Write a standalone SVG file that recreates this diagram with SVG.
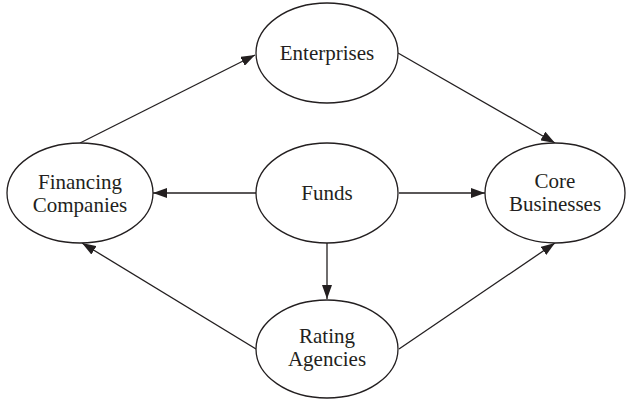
<svg xmlns="http://www.w3.org/2000/svg" width="626" height="400" viewBox="0 0 626 400">
<defs>
<style>
.node ellipse{fill:#fff;stroke:#231f20;stroke-width:1.3}
.node text{font-family:"Liberation Serif","Times New Roman",serif;font-size:21px;fill:#231f20;text-anchor:middle}
.edge{stroke:#231f20;stroke-width:1.3;fill:none;marker-end:url(#arr)}
</style>
<marker id="arr" viewBox="0 0 14 10" refX="14" refY="5" markerWidth="14" markerHeight="10" markerUnits="userSpaceOnUse" orient="auto">
<path d="M0,0 L14,5 L0,10 Z" fill="#231f20"/>
</marker>
</defs>
<rect width="626" height="400" fill="#fff"/>
<g id="connectors">
<line class="edge" x1="80" y1="143" x2="255" y2="55"/>
<line class="edge" x1="398" y1="53" x2="555" y2="143"/>
<line class="edge" x1="256" y1="193" x2="153" y2="193"/>
<line class="edge" x1="399" y1="193" x2="485" y2="193"/>
<line class="edge" x1="327" y1="243" x2="327" y2="299"/>
<line class="edge" x1="256" y1="349" x2="82" y2="243"/>
<line class="edge" x1="399" y1="349" x2="555" y2="243"/>
</g>
<g id="enterprises" class="node">
<ellipse cx="327" cy="53" rx="71" ry="50"/>
<text x="327" y="60">Enterprises</text>
</g>
<g id="funds" class="node">
<ellipse cx="327" cy="193" rx="71" ry="50"/>
<text x="327" y="200">Funds</text>
</g>
<g id="rating" class="node">
<ellipse cx="327" cy="349" rx="71" ry="49"/>
<text x="327" y="343">Rating</text>
<text x="327" y="366">Agencies</text>
</g>
<g id="financing" class="node">
<ellipse cx="80" cy="193" rx="73" ry="50"/>
<text x="80" y="189">Financing</text>
<text x="80" y="212">Companies</text>
</g>
<g id="core" class="node">
<ellipse cx="555" cy="193" rx="70" ry="50"/>
<text x="555" y="188">Core</text>
<text x="555" y="211">Businesses</text>
</g>
</svg>
